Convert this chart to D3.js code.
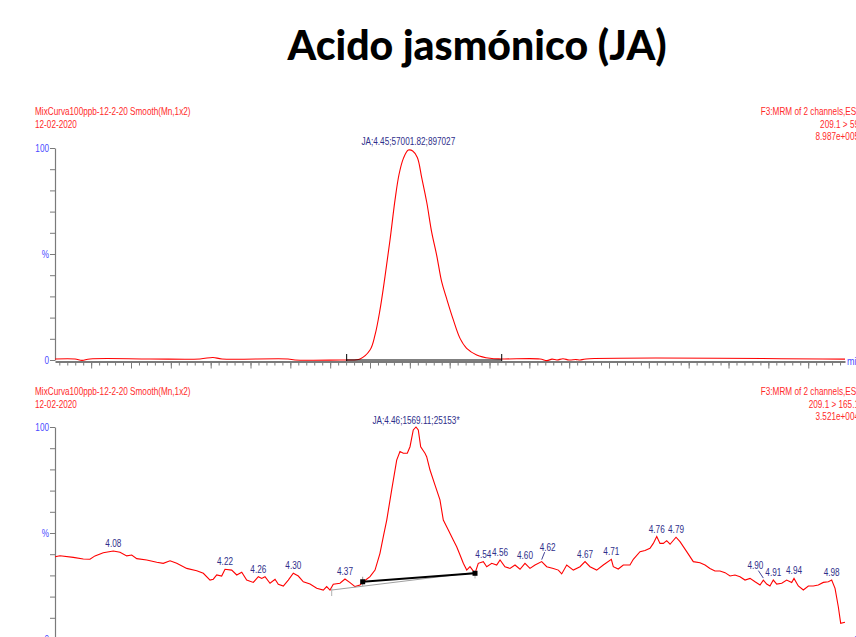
<!DOCTYPE html>
<html><head><meta charset="utf-8">
<script src="https://cdn.jsdelivr.net/npm/d3@7"></script>
<style>
body{margin:0;background:#fff;}
svg{display:block;}
.n{font-family:'Liberation Sans Narrow','Arial Narrow','Liberation Sans',Arial,sans-serif;}
</style></head><body>
<svg id="c" width="856" height="637"></svg>
<script>
// ---------------- DATA ----------------
const title = "Acido jasmónico (JA)";
const headerLeft = ["MixCurva100ppb-12-2-20 Smooth(Mn,1x2)", "12-02-2020"];
const topHeaderRight = ["F3:MRM of 2 channels,ES-", "209.1 > 59", "8.987e+005"];
const botHeaderRight = ["F3:MRM of 2 channels,ES-", "209.1 > 165.1", "3.521e+004"];
const topPeakLabel = "JA;4.45;57001.82;897027";
const botPeakLabel = "JA;4.46;1569.11;25153*";
const xDomain = [4.0046, 4.9962];
const axisUnit = "min";
const yTickValues = [0,10,20,30,40,50,60,70,80,90,100];
const yTickLabels = {0:"0", 50:"%", 100:"100"};
const xMinorStep = 0.01, xMajorStep = 0.05;

const topTime = [4.0046,4.0297,4.0385,4.0485,4.1238,4.1866,4.2029,4.2142,4.2971,4.3059,4.3623,4.3707,
  4.3874,4.4000,4.4063,4.4125,4.4188,4.4251,4.4314,4.4364,4.4418,4.4481,4.4536,4.4594,4.4649,4.4712,
  4.4774,4.4837,4.4900,4.4963,4.5046,4.5130,4.5213,4.5339,4.5506,4.5653,
  4.6133,4.6221,4.6284,4.6347,4.6422,4.6498,4.6586,4.6636,4.6711,4.9962];
const topValue = [0.5,0.5,-0.2,0.5,0.5,0.5,1.2,0.5,0.5,0,0,0,
  0.5,4.7,11.8,23.6,39.3,56.6,75.5,87.5,95,99,98.6,95.5,86,74.4,
  60.3,49.4,36.8,28.8,18.9,10.2,5.5,2.4,0.8,0.5,
  0.5,-0.3,0.4,0.0,0.6,0.0,0.2,0.0,0.5,0.4];

const botTime = [4.0046,4.0109,4.0276,4.0401,4.0485,4.0548,4.0652,4.0778,4.0862,4.0946,4.1009,4.1072,4.1197,4.1323,
  4.1405,4.1490,4.1574,4.1699,4.1825,4.1908,4.1992,4.2033,4.2076,4.2138,4.2180,4.2264,4.2327,4.2390,4.2452,4.2535,
  4.2598,4.2641,4.2682,4.2745,4.2808,4.2849,4.2912,4.2974,4.3037,4.3100,4.3163,4.3247,4.3331,4.3414,4.3456,4.3498,
  4.3539,4.3623,4.3686,4.3749,4.3812,4.3874,4.3916,4.4000,4.4063,4.4125,4.4167,4.4210,4.4272,4.4335,4.4376,4.4418,
  4.4468,4.4502,4.4543,4.4577,4.4606,4.4636,4.4690,4.4711,4.4753,4.4816,4.4878,4.4920,4.4983,4.5045,4.5088,4.5130,
  4.5171,4.5214,4.5255,4.5318,4.5359,4.5422,4.5465,4.5528,4.5590,4.5632,4.5694,4.5757,4.5820,4.5883,4.5945,4.6008,
  4.6071,4.6155,4.6218,4.6301,4.6364,4.6406,4.6469,4.6552,4.6636,4.6699,4.6761,4.6845,4.6928,4.7029,4.7054,4.7116,
  4.7179,4.7263,4.7305,4.7389,4.7452,4.7514,4.7556,4.7599,4.7640,4.7682,4.7724,4.7766,4.7841,4.7891,4.7975,4.8058,
  4.8142,4.8205,4.8267,4.8330,4.8393,4.8456,4.8519,4.8581,4.8644,4.8707,4.8770,4.8833,4.8895,4.8937,4.8979,4.9020,
  4.9062,4.9105,4.9168,4.9230,4.9293,4.9322,4.9376,4.9439,4.9502,4.9564,4.9627,4.9690,4.9753,4.9795,4.9837,4.9878,
  4.9908,4.9962];
const botValue = [38.8,39.3,38.5,37.7,37.6,39.2,40.7,41.5,40.9,39.2,39.6,37.9,37.3,36.2,
  35.7,36.9,35.7,33.3,32.2,31.0,27.8,28.2,30.2,29.7,32.9,32.5,30.2,31.5,27.8,26.7,
  29.4,28.6,29.4,26.3,28.2,25.8,25.0,27.8,31.0,29.7,27.0,25.9,23.9,23.1,24.7,23.1,
  25.8,26.3,28.3,26.6,24.7,25.5,27.0,29.4,32.5,40.4,48.3,56.1,70.3,84.4,88.4,87.6,
  87.6,90.7,98.6,100,98.6,90.7,87.6,86.0,79.7,72.6,65.6,56.1,51.4,46.7,43.5,39.6,
  35.7,32.5,34.1,31.0,35.7,36.5,34.1,35.7,34.9,37.3,34.1,33.3,34.9,32.9,35.7,33.3,
  34.9,36.5,34.1,33.3,32.5,30.7,34.9,32.5,34.1,36.5,34.1,32.5,34.9,37.6,34.1,33.0,
  34.9,34.9,37.6,41.2,41.7,42.8,45.1,48.3,45.1,45.1,46.4,44.7,48.0,45.9,41.2,36.5,
  36.0,34.9,33.3,32.1,32.1,31.3,29.7,30.2,29.4,27.8,28.6,27.0,25.5,27.8,25.9,25.0,
  27.8,25.9,26.3,27.8,26.6,28.6,25.0,23.1,25.0,25.0,25.5,26.7,27.0,27.8,23.9,15.2,
  7.4,7.9];

const peakLabelTimes = [4.08,4.22,4.26,4.30,4.37,4.54,4.56,4.60,4.62,4.67,4.71,4.76,4.79,4.90,4.91,4.94,4.98];
const peakLabelTexts = ["4.08","4.22","4.26","4.30","4.37","4.54","4.56","4.60","4.62","4.67","4.71","4.76","4.79","4.90","4.91","4.94","4.98"];

const topBaselineTime = [4.3707, 4.5653], topBaselineValue = [0, 0];
const botBaselineTime = [4.3908, 4.5318], botBaselineValue = [27.0, 31.0];
const botBaseline2Time = [4.3519, 4.5318], botBaseline2Value = [23.1, 31.4];

// ---------------- DRAW ----------------
const svg = d3.select("#c");
const RED = "#ff0000", HRED = "#ff2a2a", BLUE = "#4a4aff", NAVY = "#2e2e8a", AX = "#7a7a7a";
const SX = 0.82; // horizontal compression to imitate a narrow face

function ntext(sel, px, py, txt, anchor, fill, size) {
  return sel.append("text").attr("class","n")
    .attr("transform", `translate(${px},${py}) scale(${SX},1)`)
    .attr("text-anchor", anchor).attr("fill", fill).style("font-size", size + "px").text(txt);
}

svg.append("text").attr("x", 477).attr("y", 60).attr("text-anchor", "middle")
  .style("font-family", "Lato, 'Open Sans', sans-serif").style("font-weight", "900")
  .style("font-size", "41px").attr("fill", "#000").text(title);

const x = d3.scaleLinear().domain(xDomain).range([55, 845]);
const panels = [
  {yr:[360,148], off:0, time:topTime, val:topValue, right:topHeaderRight, plabel:topPeakLabel, curve:d3.curveCatmullRom.alpha(0.5)},
  {yr:[639,427], off:280, time:botTime, val:botValue, right:botHeaderRight, plabel:botPeakLabel, curve:d3.curveLinear}
];

panels.forEach((p, pi) => {
  const y = d3.scaleLinear().domain([0,100]).range(p.yr);
  const g = svg.append("g");
  headerLeft.forEach((t,i) => ntext(g, 35, 115+p.off+i*12.5, t, "start", HRED, 10));
  p.right.forEach((t,i) => ntext(g, 859, 115+p.off+i*12.5, t, "end", HRED, 10));

  // y axis
  const ya = g.append("g").attr("transform","translate(55,0)")
    .call(d3.axisLeft(y).tickValues(yTickValues).tickSize(5).tickSizeOuter(0).tickPadding(0)
      .tickFormat(d => yTickLabels[d] || ""));
  ya.select(".domain").attr("stroke",AX).attr("stroke-width",1.2);
  ya.selectAll(".tick line").attr("stroke",AX);
  ya.selectAll(".tick text").attr("class","n").attr("fill",BLUE).style("font-size","10px")
    .attr("font-family",null).attr("x",null).attr("transform",`translate(-6,0) scale(${SX},1)`);

  // x axis
  const minor = d3.range(Math.ceil(xDomain[0]/xMinorStep), Math.floor(xDomain[1]/xMinorStep)+1).map(v => +(v*xMinorStep).toFixed(2));
  const major = minor.filter(v => Math.abs(Math.round(v/xMajorStep)*xMajorStep - v) < 1e-6);
  const xa = g.append("g").attr("transform",`translate(0,${p.yr[0]+1.5})`);
  xa.append("g").call(d3.axisBottom(x).tickValues(minor).tickSize(4).tickSizeOuter(0).tickFormat(""))
    .call(s => { s.select(".domain").attr("stroke",AX).attr("stroke-width",2); s.selectAll(".tick line").attr("stroke",AX); });
  xa.append("g").call(d3.axisBottom(x).tickValues(major).tickSize(7).tickSizeOuter(0).tickFormat(""))
    .call(s => { s.select(".domain").remove(); s.selectAll(".tick line").attr("stroke",AX); });
  ntext(g, 847, p.yr[0]+5, axisUnit, "start", BLUE, 11);

  // curve
  const pts = p.time.map((t,i) => [t, p.val[i]]);
  g.append("path").datum(pts).attr("fill","none").attr("stroke",RED).attr("stroke-width",1.1)
    .attr("d", d3.line().x(d => x(d[0])).y(d => y(d[1])).curve(p.curve));

  // main peak label
  const iMax = d3.maxIndex(p.val);
  ntext(g, x(p.time[iMax]), y(100)-3.5, p.plabel, "middle", NAVY, 10);

  if (pi === 0) {
    const bx = topBaselineTime.map(x), by = topBaselineValue.map(y);
    g.append("line").attr("x1",bx[0]).attr("y1",by[0]).attr("x2",bx[1]).attr("y2",by[1]).attr("stroke","#000").attr("stroke-width",1.2);
    bx.forEach((v,i) => g.append("line").attr("x1",v).attr("x2",v).attr("y1",by[i]-6).attr("y2",by[i]+1).attr("stroke","#000"));
  } else {
    const gx = botBaseline2Time.map(x), gy = botBaseline2Value.map(y);
    g.append("line").attr("x1",gx[0]).attr("y1",gy[0]).attr("x2",gx[1]).attr("y2",gy[1]).attr("stroke","#a0a0a0").attr("stroke-width",1);
    g.append("line").attr("x1",gx[0]).attr("x2",gx[0]).attr("y1",gy[0]-2).attr("y2",gy[0]+6).attr("stroke","#b0b0b0");
    g.append("line").attr("x1",gx[1]).attr("x2",gx[1]).attr("y1",gy[1]-2).attr("y2",gy[1]+6).attr("stroke","#b0b0b0");
    const bx = botBaselineTime.map(x), by = botBaselineValue.map(y);
    g.append("line").attr("x1",bx[0]).attr("x2",bx[0]).attr("y1",by[0]-5).attr("y2",by[0]+4).attr("stroke","#909090");
    g.append("line").attr("x1",bx[0]).attr("y1",by[0]).attr("x2",bx[1]).attr("y2",by[1]).attr("stroke","#000").attr("stroke-width",2);
    bx.forEach((v,i) => g.append("rect").attr("x",v-2.5).attr("y",by[i]-2.5).attr("width",5).attr("height",5).attr("fill","#000"));

    const leaderNudge = {"4.62": 6, "4.90": -8};
    peakLabelTimes.forEach((lt, k) => {
      let best = -1;
      p.time.forEach((t,i) => { if (Math.abs(t-lt) <= 0.008 && (best < 0 || p.val[i] > p.val[best])) best = i; });
      const px = x(p.time[best]), py = y(p.val[best]);
      const txt = peakLabelTexts[k];
      if (leaderNudge[txt] !== undefined) {
        const cx = px + leaderNudge[txt], base = py - 11;
        ntext(g, cx, base, txt, "middle", NAVY, 10);
        g.append("line").attr("x1", cx - Math.sign(leaderNudge[txt])*3).attr("y1", base+1.5)
          .attr("x2", px).attr("y2", py-2).attr("stroke",NAVY).attr("stroke-width",0.9);
      } else {
        ntext(g, px, py-4, txt, "middle", NAVY, 10);
      }
    });
  }
});
</script>
</body></html>
